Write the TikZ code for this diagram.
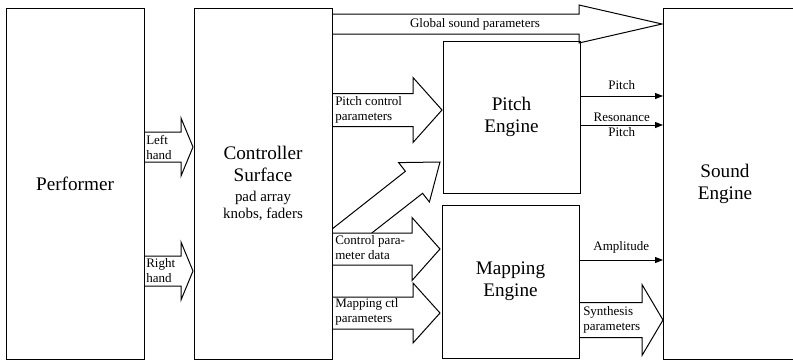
\documentclass[tikz,border=0pt]{standalone}
\usepackage{fontspec}
\setmainfont{Liberation Serif}
\usetikzlibrary{arrows.meta,calc}
\tikzset{
  box/.style={draw, line width=0.75pt, inner sep=0pt, font=\fontsize{14.4}{16.5}\selectfont, align=center},
  barrow/.style={line width=0.75pt, line join=miter},
  sigline/.style={line width=0.75pt, -{Triangle[length=6pt,width=4.5pt]}},
  lbl/.style={font=\fontsize{9.75}{11.25}\selectfont, inner sep=0pt, align=left},
}
\newcommand\blockarr[6]{%
  \pgfmathsetmacro\bya{#4-#5}\pgfmathsetmacro\byb{#4+#5}%
  \pgfmathsetmacro\byc{#4-#6}\pgfmathsetmacro\byd{#4+#6}%
  \draw[barrow] (#1.east |- 0,\bya) -- (#2,\bya) -- (#2,\byc) -- (#3,#4) -- (#2,\byd) -- (#2,\byb) -- (#1.east |- 0,\byb);}
\begin{document}
\begin{tikzpicture}[x=0.75pt,y=-0.75pt]
\useasboundingbox (0,0) rectangle (793,361);
% boxes
\node[box, minimum width=103.5pt, minimum height=263.25pt] (perf) at (75,183.5) {Performer};
\node[box, minimum width=103.5pt, minimum height=263.25pt] (ctrl) at (263,183.5)
  {Controller\\Surface\\[-1.5pt]{\fontsize{11.2}{12.75}\selectfont pad array}\\[-3.75pt]{\fontsize{11.2}{12.75}\selectfont knobs, faders}};
\node[box, minimum width=102.75pt, minimum height=114pt] (pitch) at (511.5,117) {Pitch\\Engine};
\node[box, minimum width=102.75pt, minimum height=114.75pt] (map) at (510.5,281.5) {Mapping\\Engine};
\node[box, minimum width=100.5pt, minimum height=263.25pt, anchor=west] (sound) at (663,183.5) {};
\node[font=\fontsize{14.4}{16.5}\selectfont, align=center, inner sep=0pt] (soundtxt) at (725,183.5) {Sound\\Engine};
% block arrows
\blockarr{perf}{181}{193}{147}{15}{29}
\blockarr{perf}{181}{193}{271}{15}{29}
\blockarr{ctrl}{579}{662}{24}{10}{19}
\blockarr{ctrl}{413}{442}{110}{16.5}{32.5}
\blockarr{ctrl}{412}{440}{249}{16}{31.5}
\blockarr{ctrl}{413}{440}{313}{16}{30}
\blockarr{map}{642}{663}{320}{17.5}{35.5}
% diagonal block arrow
\draw[barrow] (ctrl.east |- 0,228.7) -- (405.4,171.3) -- (398.6,162.6) -- (440,162)
  -- (429.4,202.0) -- (422.6,193.3) -- (371.8,233);
% arrow texts
\node[lbl, anchor=west] (lh) at (146,147) {Left\\hand};
\node[lbl, anchor=west] (rh) at (146,271) {Right\\hand};
\node[lbl] (gsp) at (475,24) {Global sound parameters};
\node[lbl, anchor=west] (pcp) at (335,110) {Pitch control\\parameters};
\node[lbl, anchor=west] (cpd) at (335,248) {Control para-\\meter data};
\node[lbl, anchor=west] (mcp) at (335,312) {Mapping ctl\\parameters};
\node[lbl, anchor=west] (syn) at (583,320) {Synthesis\\parameters};
% signal arrows
\draw[sigline] (pitch.east |- 0,96) -- (sound.west |- 0,96) node[lbl, midway, above=4.2pt] {Pitch};
\draw[sigline] (pitch.east |- 0,125) -- (sound.west |- 0,125) node[lbl, midway, align=center] {Resonance\\Pitch};
\draw[sigline] (map.east |- 0,260) -- (sound.west |- 0,260) node[lbl, midway, above=4.4pt] {Amplitude};
\end{tikzpicture}
\end{document}
